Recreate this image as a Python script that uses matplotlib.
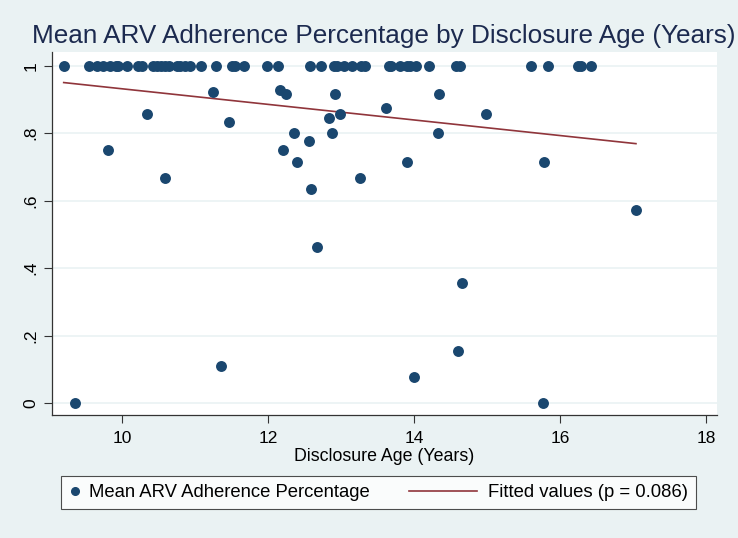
import matplotlib
matplotlib.use("Agg")
import matplotlib.pyplot as plt
from matplotlib.lines import Line2D
from matplotlib.legend_handler import HandlerLine2D

plt.rcParams['font.family'] = ['Liberation Sans', 'DejaVu Sans']

# disclosure age (years) and mean adherence
age_full = [9.20, 9.55, 9.66, 9.74, 9.84, 9.92, 9.95, 10.07, 10.22, 10.27,
            10.43, 10.48, 10.53, 10.59, 10.64, 10.75, 10.80, 10.86, 10.93, 11.08,
            11.29, 11.51, 11.55, 11.67, 11.98, 12.14, 12.58, 12.73, 12.90, 12.95,
            13.04, 13.15, 13.27, 13.33, 13.65, 13.69, 13.81, 13.91, 13.94, 14.03,
            14.20, 14.57, 14.63, 15.60, 15.83, 16.25, 16.29, 16.43]
adh_full = [1.0] * len(age_full)

age_part = [11.24, 10.34, 11.47, 12.16, 12.24, 12.92, 13.61, 12.98, 12.84, 12.87,
            12.35, 12.56, 12.21, 9.80, 12.40, 14.34, 14.99, 14.33, 13.91, 15.78,
            10.59, 12.59, 13.26, 12.67, 17.04, 14.65, 9.36, 11.36, 14.00, 14.60,
            15.76]
adh_part = [0.923, 0.857, 0.833, 0.929, 0.917, 0.917, 0.875, 0.857, 0.846, 0.80,
            0.80, 0.778, 0.75, 0.75, 0.714, 0.917, 0.857, 0.80, 0.714, 0.714,
            0.667, 0.636, 0.667, 0.462, 0.571, 0.357, 0.0, 0.111, 0.077, 0.154,
            0.0]

age = age_full + age_part
adherence = adh_full + adh_part

# fitted line end points
fit_x = [9.20, 17.04]
fit_y = [0.950, 0.769]

y_ticks = [0, 0.2, 0.4, 0.6, 0.8, 1]
y_labels = ['0', '.2', '.4', '.6', '.8', '1']
x_ticks = [10, 12, 14, 16, 18]

bg = '#EAF2F3'
navy = '#1A476F'
maroon = '#90353B'


# legend line key that reaches further left than the (short) handle box
class LongLineHandler(HandlerLine2D):
    def create_artists(self, legend, orig_handle, xdescent, ydescent,
                       width, height, fontsize, trans):
        extra = 43.0
        artists = super().create_artists(legend, orig_handle, xdescent + extra, ydescent,
                                         width + extra - 1.5, height, fontsize, trans)
        return artists


fig = plt.figure(figsize=(7.38, 5.38), dpi=100, facecolor=bg)
ax = fig.add_axes([0.0705, 0.228, 0.901, 0.675])
ax.set_facecolor('white')

ax.scatter(age, adherence, s=62, color=navy, zorder=3, linewidths=0)
ax.plot(fit_x, fit_y, color=maroon, lw=1.2, zorder=2)

ax.set_xlim(9.04, 18.15)
ax.set_ylim(-0.036, 1.04)
ax.set_yticks(y_ticks)
ax.set_yticklabels(y_labels, rotation=90, va='center')
ax.set_xticks(x_ticks)
ax.tick_params(axis='both', labelsize=12.5, length=6, width=0.8, color='#333333', direction='out')
ax.tick_params(axis='x', pad=5.5)
ax.grid(axis='y', color=bg, lw=1.2, zorder=0)
ax.set_axisbelow(True)
for s in ['top', 'right']:
    ax.spines[s].set_visible(False)
for s in ['left', 'bottom']:
    ax.spines[s].set_color('#333333')
    ax.spines[s].set_linewidth(0.9)

ax.set_xlabel('Disclosure Age (Years)', fontsize=12.8, labelpad=1.5)
fig.text(0.52, 0.934, 'Mean ARV Adherence Percentage by Disclosure Age (Years)',
         ha='center', va='center', fontsize=18.8, color='#1C2A4F')

h_pts = Line2D([], [], marker='o', ls='none', color=navy, markersize=5.5)
h_fit = Line2D([], [], color=maroon, lw=1.2)
leg = fig.legend([h_pts, h_fit], ['Mean ARV Adherence Percentage', 'Fitted values (p = 0.086)'],
                 loc='center left', bbox_to_anchor=(0.0826, 0.0846), ncol=2, fontsize=13.3,
                 frameon=True, fancybox=False, edgecolor='#222222', facecolor='white',
                 handlelength=0.6, handletextpad=0.45, columnspacing=5.36, borderpad=0.45,
                 borderaxespad=0, handler_map={h_fit: LongLineHandler()})
leg.get_frame().set_linewidth(0.8)

fig.savefig('out.png', dpi=100, facecolor=bg)
